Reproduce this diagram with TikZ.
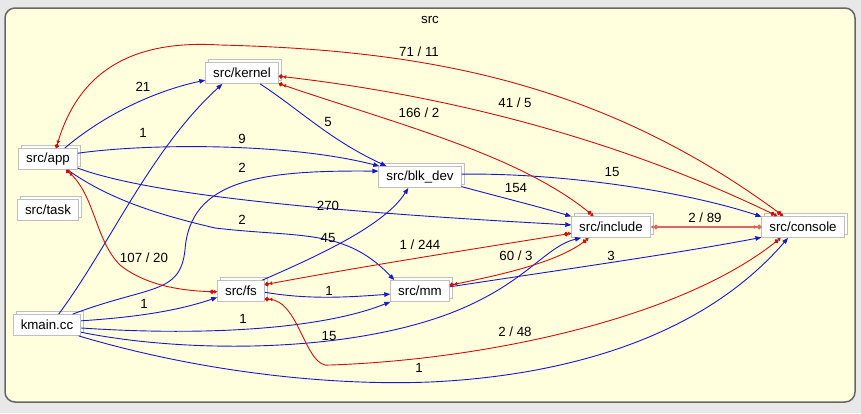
\documentclass[tikz,border=0pt]{standalone}
\usepackage{fontspec}
\setmainfont{Liberation Sans}
\usetikzlibrary{positioning,arrows.meta,shadows}

\definecolor{depblue}{HTML}{1818C8}
\definecolor{cycred}{HTML}{CC1010}
\definecolor{cyclight}{HTML}{E06464}
\definecolor{panelbg}{HTML}{FFFFDD}
\definecolor{outerbg}{HTML}{E8E8E8}
\definecolor{boxline}{HTML}{BFBFBF}

\begin{document}
\begin{tikzpicture}[x=1pt, y=-1pt,
  every node/.style={font=\fontsize{13.3}{16}\selectfont},
  folder/.style={draw=boxline, fill=white, line width=0.8pt, inner xsep=7.5pt, inner ysep=0pt,
    minimum height=21pt, copy shadow={shadow xshift=3pt, shadow yshift=3pt}},
  lbl/.style={inner sep=1pt},
  dep/.style={depblue, line width=0.9pt, -{Triangle[length=6pt,width=4.5pt]}},
  cyc/.style={cycred, line width=0.9pt,
    {Triangle[length=3pt,width=3.5pt]Circle[length=4.5pt]}-{Triangle[length=3pt,width=3.5pt]Circle[length=4.5pt]}}]

  % Background and frame
  \path[use as bounding box, fill=outerbg] (0,0) rectangle (861,413);
  \draw[draw=gray!80!black, fill=panelbg, line width=1.5pt, rounded corners=10pt] (5,8) rectangle (855,402);
  \node (title) at (430,20) {src};

  % Top row
  \node[folder] (kernel) at (242,73) {src/kernel};

  % Left column
  \node[folder] (app) at (48,159) {src/app};
  \node[folder] (task) at (48,210) {src/task};
  \node[folder] (kmain) at (47,325) {kmain.cc};

  % Middle
  \node[folder] (blkdev) at (420,177) {src/blk\_dev};
  \node[folder] (fs) at (241,291) {src/fs};
  \node[folder] (mm) at (420,291) {src/mm};

  % Right
  \node[folder] (include) at (611,227) {src/include};
  \node[folder] (console) at (803,227) {src/console};

  % Edges from src/app
  \draw[dep] (app.33) .. controls (100,118) and (150,92) .. (kernel.191);
  \draw[dep] (app.11) .. controls (150,143) and (290,143) .. (blkdev.165);
  \draw[dep] (app.-17) .. controls (150,195) and (330,212) .. (include.177);
  \draw[dep] (app.-29) .. controls (110,200) and (160,215) .. (215,228)
    .. controls (300,238) and (345,228) .. (mm.157);

  % Edges from src/kernel
  \draw[dep] (kernel.-31) .. controls (300,110) and (330,140) .. (blkdev.162);

  % Edges from kmain.cc
  \draw[dep] (kmain.43) .. controls (110,245) and (150,150) .. (kernel.209);
  \draw[dep] (kmain.23) .. controls (150,285) and (180,295) .. (185,250)
    .. controls (190,180) and (260,170) .. (blkdev.172);
  \draw[dep] (kmain.7) .. controls (140,317) and (180,310) .. (fs.195);
  \draw[dep] (kmain.-5) .. controls (200,336) and (320,330) .. (mm.200);
  \draw[dep] (kmain.-12) .. controls (200,356) and (380,352) .. (480,300)
    .. controls (530,275) and (550,245) .. (include.200);
  \draw[dep] (kmain.-19) .. controls (200,372) and (330,386) .. (430,382)
    .. controls (560,376) and (700,340) .. (console.216);

  % Edges from src/fs
  \draw[dep] (fs.27) .. controls (320,255) and (385,225) .. (blkdev.223);
  \draw[dep] (fs.-3) .. controls (310,300) and (350,297) .. (mm.186);

  % Edges from src/blk_dev
  \draw[dep] (blkdev.-13) .. controls (500,197) and (540,207) .. (include.165);
  \draw[dep] (blkdev.4) .. controls (560,173) and (680,190) .. (console.166);

  % Edges from src/mm
  \draw[dep] (mm.8) .. controls (560,270) and (680,253) .. (console.194);

  % Cycles
  \draw[cyc] (console.151) .. controls (600,80) and (420,50) .. (220,45)
    .. controls (140,40) and (80,65) .. (app.53);
  \draw[cyc] (console.157) .. controls (600,130) and (420,92) .. (kernel.-5);
  \draw[cyc] (include.148) .. controls (520,155) and (400,125) .. (kernel.-16);
  \draw[cyc] (fs.182) .. controls (180,291) and (145,285) .. (120,265)
    .. controls (95,240) and (95,195) .. (app.-31);
  \draw[cyc] (include.189) .. controls (480,248) and (370,265) .. (fs.15);
  \draw[cyc] (include.206) .. controls (560,262) and (500,275) .. (mm.11);
  \draw[cyc, cyclight, line width=2pt] (include) -- (console);
  \draw[cyc] (console.206) .. controls (680,320) and (480,360) .. (330,365)
    .. controls (305,370) and (300,300) .. (fs.-19);

  % Edge labels
  \node[lbl] (l-console-app) at (419,52) {71 / 11};
  \node[lbl] (l-app-kernel) at (143,87) {21};
  \node[lbl] (l-console-kernel) at (515,103) {41 / 5};
  \node[lbl] (l-include-kernel) at (419,113) {166 / 2};
  \node[lbl] (l-kernel-blkdev) at (328,122) {5};
  \node[lbl] (l-kmain-kernel) at (143,133) {1};
  \node[lbl] (l-app-blkdev) at (242,139) {9};
  \node[lbl] (l-kmain-blkdev) at (242,168) {2};
  \node[lbl] (l-blkdev-console) at (612,172) {15};
  \node[lbl] (l-blkdev-include) at (516,188) {154};
  \node[lbl] (l-app-include) at (328,206) {270};
  \node[lbl] (l-include-console) at (705,218) {2 / 89};
  \node[lbl] (l-app-mm) at (242,220) {2};
  \node[lbl] (l-fs-blkdev) at (328,238) {45};
  \node[lbl] (l-include-fs) at (420,245) {1 / 244};
  \node[lbl] (l-include-mm) at (516,256) {60 / 3};
  \node[lbl] (l-mm-console) at (611,256) {3};
  \node[lbl] (l-app-fs) at (144,258) {107 / 20};
  \node[lbl] (l-fs-mm) at (329,291) {1};
  \node[lbl] (l-kmain-fs) at (144,304) {1};
  \node[lbl] (l-kmain-mm) at (243,319) {1};
  \node[lbl] (l-console-fs) at (515,332) {2 / 48};
  \node[lbl] (l-kmain-include) at (329,336) {15};
  \node[lbl] (l-kmain-console) at (419,368) {1};
\end{tikzpicture}
\end{document}
